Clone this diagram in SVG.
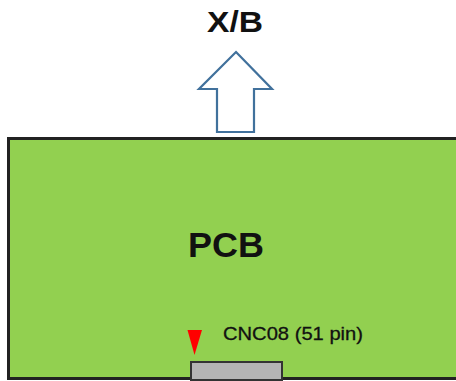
<svg xmlns="http://www.w3.org/2000/svg" width="456" height="381" viewBox="0 0 456 381">
<style>
.lbl{font-family:"Liberation Sans",Arial,sans-serif;fill:#111;}
</style>
<rect width="456" height="381" fill="#ffffff"/>
<g id="pcb">
<rect x="8.5" y="138.5" width="452" height="240" fill="#92D050" stroke="#222" stroke-width="3"/>
<text class="lbl" x="226" y="257" font-size="35" font-weight="bold" text-anchor="middle" textLength="76" lengthAdjust="spacingAndGlyphs">PCB</text>
</g>
<g id="connector">
<rect x="191" y="362" width="91" height="18" fill="#B4B4B4" stroke="#333" stroke-width="2"/>
<polygon points="187.5,330 202,330 194.5,355" fill="#FF0000"/>
<text class="lbl" x="223" y="340" font-size="18.5" textLength="140" lengthAdjust="spacingAndGlyphs" stroke="#111" stroke-width="0.3">CNC08 (51 pin)</text>
</g>
<g id="xb-arrow">
<polygon points="236,52 272,89 254,89 254,132 217,132 217,89 199,89" fill="#ffffff" stroke="#41719C" stroke-width="2.2" stroke-linejoin="miter"/>
</g>
<g id="xb">
<text class="lbl" x="235" y="32" font-size="29" font-weight="bold" text-anchor="middle" textLength="56" lengthAdjust="spacingAndGlyphs">X/B</text>
</g>
</svg>
